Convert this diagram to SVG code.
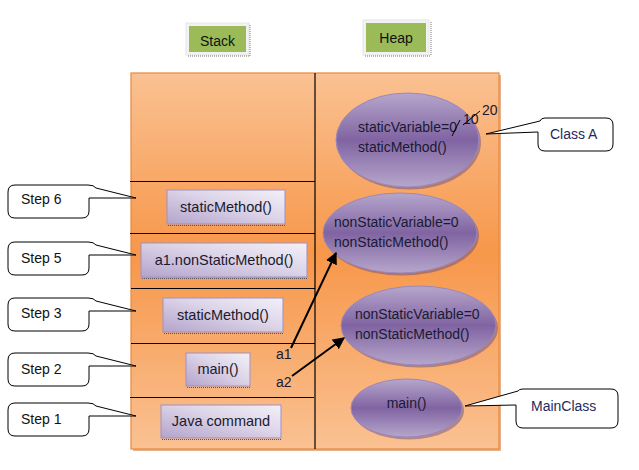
<svg xmlns="http://www.w3.org/2000/svg" width="639" height="470" viewBox="0 0 639 470">
<defs>
  <linearGradient id="mem" x1="0" y1="0" x2="0" y2="1">
    <stop offset="0" stop-color="#fac192"/>
    <stop offset="0.48" stop-color="#f7974a"/>
    <stop offset="1" stop-color="#fac192"/>
  </linearGradient>
  <linearGradient id="ell" x1="0" y1="0" x2="0" y2="1">
    <stop offset="0" stop-color="#b6a6cb"/>
    <stop offset="0.5" stop-color="#8064a2"/>
    <stop offset="1" stop-color="#b6a6cb"/>
  </linearGradient>
  <linearGradient id="box" x1="0" y1="1" x2="1" y2="0">
    <stop offset="0" stop-color="#b3a3cb"/>
    <stop offset="0.55" stop-color="#dcd4e8"/>
    <stop offset="1" stop-color="#f3f0f8"/>
  </linearGradient>
  <marker id="arr" viewBox="0 0 10 10" refX="9" refY="5" markerWidth="6" markerHeight="6" orient="auto">
    <path d="M0,0 L10,5 L0,10 Z" fill="#000"/>
  </marker>
  <path id="stepShape" d="M15,0 L80,0 Q86,0 88,3 L128,13 L81,13 L81,26 Q81,33 74,33 L7,33 Q0,33 0,26 L0,7 Q0,0 7,0 Z"/>
</defs>
<style>
  text { font-family: "Liberation Sans", Arial, sans-serif; }
  .lbl { font-size: 14px; fill: #111; }
  .stk { font-size: 14.5px; fill: #1a1a2e; text-anchor: middle; }
  .ht { font-size: 14px; fill: #1a1a33; }
  .call { fill: #fff; stroke: #000; stroke-width: 1; }
  .ct { font-size: 14px; fill: #1f2a5c; }
  .st { font-size: 14px; fill: #111; }
  .sbox { fill: url(#box); stroke: #a08fc4; stroke-width: 1; }
  .sshadow { fill: none; stroke: #555; stroke-width: 1; stroke-dasharray: 1 1; }
  .ellS { fill: #5b4480; opacity: 0.45; }
  .ellF { fill: url(#ell); stroke: #9a88bd; stroke-width: 1; }
  .div { stroke: #000; stroke-width: 1.2; }
  .arrow { stroke: #000; stroke-width: 2; fill: none; marker-end: url(#arr); }
</style>

<rect width="639" height="470" fill="#fff"/>

<!-- Titles -->
<g id="stackTitle">
  <rect x="186" y="23" width="63" height="32" fill="#f2f2f2" stroke="#e6e6e6"/>
  <line x1="188" y1="56" x2="250" y2="56" stroke="#777" stroke-dasharray="1 1"/>
  <line x1="250" y1="25" x2="250" y2="56" stroke="#777" stroke-dasharray="1 1"/>
  <rect x="189" y="26" width="57" height="26" fill="#9bbb59"/>
  <text x="217.5" y="46" class="lbl" text-anchor="middle">Stack</text>
</g>
<g id="heapTitle">
  <rect x="363" y="20" width="66" height="35" fill="#f2f2f2" stroke="#e6e6e6"/>
  <line x1="365" y1="56" x2="431" y2="56" stroke="#777" stroke-dasharray="1 1"/>
  <line x1="431" y1="22" x2="431" y2="56" stroke="#777" stroke-dasharray="1 1"/>
  <rect x="366" y="23" width="60" height="29" fill="#9bbb59"/>
  <text x="396" y="43" class="lbl" text-anchor="middle">Heap</text>
</g>

<!-- Memory area -->
<g id="memory">
  <rect x="133" y="75" width="368" height="376" fill="#c7661f" opacity="0.5"/>
  <rect x="131" y="73" width="368" height="376" fill="url(#mem)" stroke="#e8893c" stroke-width="1.2"/>
  <line class="div" x1="315" y1="73" x2="315" y2="449"/>
  <line class="div" x1="130" y1="181.5" x2="315" y2="181.5"/>
  <line class="div" x1="130" y1="233.5" x2="315" y2="233.5"/>
  <line class="div" x1="131" y1="288.5" x2="315" y2="288.5"/>
  <line class="div" x1="131" y1="343.5" x2="315" y2="343.5"/>
  <line class="div" x1="130" y1="397.5" x2="314" y2="397.5"/>
</g>

<!-- Stack frames -->
<g id="frame6">
  <line class="sshadow" x1="168" y1="225.5" x2="285" y2="225.5"/>
  <rect class="sbox" x="167" y="190" width="118" height="34"/>
  <text class="stk" x="226" y="212">staticMethod()</text>
</g>
<g id="frame5">
  <line class="sshadow" x1="142" y1="278.5" x2="307" y2="278.5"/>
  <rect class="sbox" x="141" y="243" width="166" height="34"/>
  <text class="stk" x="224" y="265">a1.nonStaticMethod()</text>
</g>
<g id="frame3">
  <line class="sshadow" x1="164" y1="333.5" x2="283" y2="333.5"/>
  <rect class="sbox" x="163" y="298" width="120" height="34"/>
  <text class="stk" x="223" y="320">staticMethod()</text>
</g>
<g id="frame2">
  <line class="sshadow" x1="187" y1="387.5" x2="250" y2="387.5"/>
  <rect class="sbox" x="186" y="353" width="64" height="33"/>
  <text class="stk" x="218" y="374">main()</text>
  <text class="ht" x="276" y="359">a1</text>
  <text class="ht" x="276" y="387">a2</text>
</g>
<g id="frame1">
  <line class="sshadow" x1="162" y1="439.5" x2="281" y2="439.5"/>
  <rect class="sbox" x="161" y="405" width="120" height="33"/>
  <text class="stk" x="221" y="426">Java command</text>
</g>

<!-- Heap objects -->
<g id="classA">
  <ellipse class="ellS" cx="409.5" cy="142.5" rx="71.5" ry="47"/>
  <ellipse class="ellF" cx="407.5" cy="140" rx="71.5" ry="47"/>
  <text class="ht" x="358" y="132">staticVariable=0</text>
  <text class="ht" x="358" y="152">staticMethod()</text>
  <line x1="452" y1="136" x2="460" y2="120" stroke="#000" stroke-width="1"/>
  <text class="ht" x="463" y="124">10</text>
  <line x1="463" y1="125" x2="480" y2="111" stroke="#000" stroke-width="1"/>
  <text class="ht" x="482" y="115">20</text>
</g>
<g id="objA1">
  <ellipse class="ellS" cx="402" cy="235.5" rx="77" ry="40"/>
  <ellipse class="ellF" cx="400" cy="233" rx="77" ry="40"/>
  <text class="ht" x="334" y="227">nonStaticVariable=0</text>
  <text class="ht" x="334" y="247">nonStaticMethod()</text>
</g>
<g id="objA2">
  <ellipse class="ellS" cx="420.5" cy="328" rx="77.5" ry="39.5"/>
  <ellipse class="ellF" cx="418.5" cy="325.5" rx="77.5" ry="39.5"/>
  <text class="ht" x="355" y="319">nonStaticVariable=0</text>
  <text class="ht" x="355" y="339">nonStaticMethod()</text>
</g>
<g id="mainClass">
  <ellipse class="ellS" cx="408.5" cy="410.5" rx="55.5" ry="29"/>
  <ellipse class="ellF" cx="406.5" cy="408" rx="55.5" ry="29"/>
  <text class="ht" x="406.5" y="408" text-anchor="middle">main()</text>
</g>

<!-- Callouts -->
<g id="step6">
  <use href="#stepShape" class="call" x="8" y="185"/>
  <text class="st" x="21" y="204">Step 6</text>
</g>
<g id="step5">
  <use href="#stepShape" class="call" x="8" y="242"/>
  <text class="st" x="21" y="263">Step 5</text>
</g>
<g id="step3">
  <use href="#stepShape" class="call" x="8" y="298"/>
  <text class="st" x="21" y="318">Step 3</text>
</g>
<g id="step2">
  <use href="#stepShape" class="call" x="8" y="353"/>
  <text class="st" x="21" y="374">Step 2</text>
</g>
<g id="step1">
  <use href="#stepShape" class="call" x="8" y="403"/>
  <text class="st" x="21" y="424">Step 1</text>
</g>
<g id="calloutClassA">
  <path class="call" d="M545,118 L606,118 Q613,118 613,125 L613,144 Q613,151 606,151 L545,151 Q538,151 538,144 L538,132 L486,134 L540,121 Q541,118 545,118 Z"/>
  <text class="ct" x="550" y="139">Class A</text>
</g>
<g id="calloutMainClass">
  <path class="call" d="M523,389 L611,389 Q618,389 618,396 L618,421 Q618,428 611,428 L523,428 Q516,428 516,421 L516,405 L465,406 L518,391 Q519,389 523,389 Z"/>
  <text class="ct" x="531" y="411">MainClass</text>
</g>

<!-- Connectors -->
<g id="connectors">
  <line class="arrow" x1="291" y1="348" x2="336" y2="253"/>
  <line class="arrow" x1="292" y1="376" x2="344" y2="338"/>
</g>
</svg>
